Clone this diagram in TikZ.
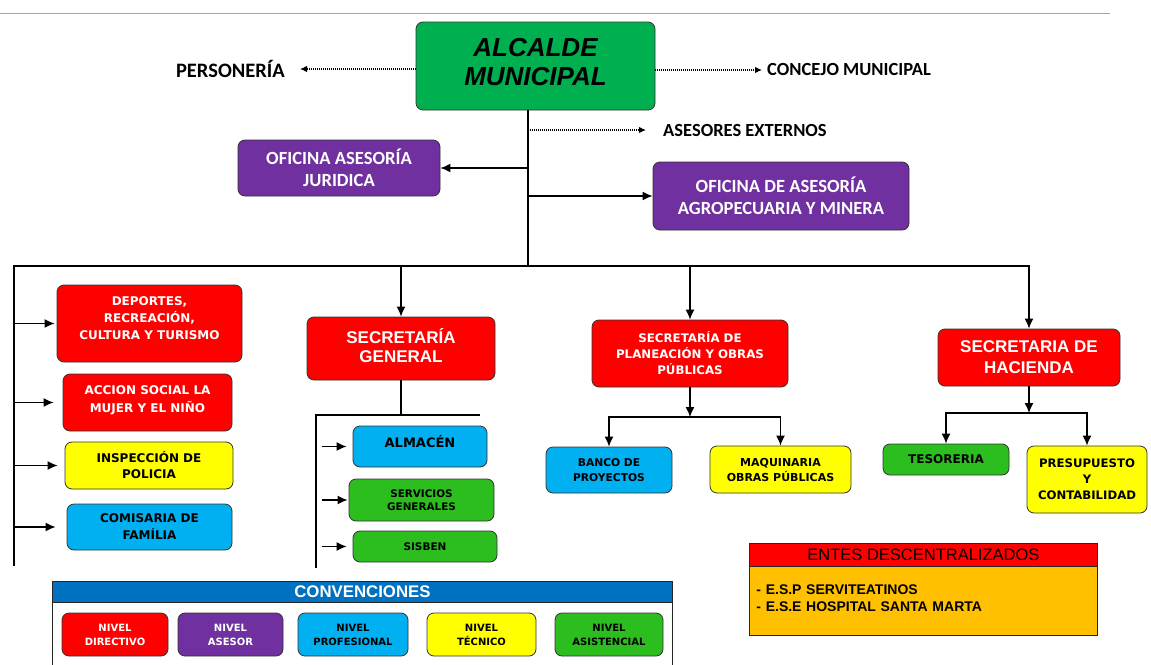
\documentclass[tikz,border=0pt]{standalone}
\usepackage{fontspec}
\setmainfont{Liberation Sans}
\newfontfamily\calib{Carlito}
\newfontfamily\dvs{DejaVu Sans}
\usetikzlibrary{arrows.meta}

\definecolor{alcgreen}{HTML}{00B050}
\definecolor{asepurple}{HTML}{7030A0}
\definecolor{dirred}{HTML}{FF0000}
\definecolor{profblue}{HTML}{00B0F0}
\definecolor{tecyellow}{HTML}{FFFF00}
\definecolor{asisgreen}{RGB}{44,190,30}
\definecolor{convblue}{HTML}{0070C0}
\definecolor{entorange}{HTML}{FFC000}

\newcommand\fs[2]{\fontsize{#1}{#2}\selectfont}

\begin{document}
\begin{tikzpicture}[x=1pt,y=-1pt,
  box/.style={draw=black!80, line width=0.8pt, rounded corners=7pt, align=center, inner sep=2pt},
  sz/.style 2 args={minimum width=#1, minimum height=#2},
  wire/.style={line width=1.3pt, draw=black},
  arr/.style={wire, -{Latex[length=10pt,width=9pt]}},
  dotarr/.style={line width=1.1pt, dash pattern=on 1pt off 1pt, -{Latex[length=7pt,width=6.5pt]}},
  lbl/.style={font=\calib\bfseries\fs{18.5}{22}, inner sep=0pt},
  dirbox/.style={box, fill=dirred, text=white},
  asebox/.style={box, fill=asepurple, text=white, font=\calib\bfseries\fs{18.6}{22}},
  profbox/.style={box, fill=profblue, text=black},
  tecbox/.style={box, fill=tecyellow, text=black},
  asisbox/.style={box, fill=asisgreen, text=black},
  heavy/.style 2 args={font=\dvs\bfseries\fs{#1}{#2}},
]
\clip (0,0) rectangle (1151,664);
\fill[white] (0,0) rectangle (1151,664);

% page rule
\draw[gray!70, line width=1pt] (0,13) -- (1110,13);

% ---- top level ----
\node[box, fill=alcgreen, sz={239pt}{88pt}, text depth=9pt, font=\bfseries\itshape\fs{26}{29}] (alc) at (535.5,66) {ALCALDE\\MUNICIPAL};

\node[lbl, anchor=east, font=\calib\bfseries\fs{20.5}{22}] (pers) at (285,69) {PERSONERÍA};
\node[lbl, anchor=west] (conc) at (767,70) {CONCEJO MUNICIPAL};
\node[lbl, anchor=west] (asex) at (663,130) {ASESORES EXTERNOS};

\coordinate (bus) at (528,266);
\coordinate (busL) at (14,266);
\coordinate (leftEnd) at (14,566);

\draw[dotarr, shorten >=15pt] (pers.east -| alc.west) -- (pers.east);
\draw[dotarr, shorten >=5pt] (conc.west -| alc.east) -- (conc.west);
\draw[dotarr, shorten >=17pt] (asex.west -| bus) -- (asex.west);

% advisory offices
\node[asebox, sz={202pt}{56pt}] (jur) at (339,168) {OFICINA ASESORÍA\\JURIDICA};
\node[asebox, sz={256pt}{68pt}] (agro) at (781,196) {OFICINA DE ASESORÍA\\AGROPECUARIA Y MINERA};

\draw[wire] (alc.south -| bus) -- (bus);
\draw[arr] (jur.east -| bus) -- (jur.east);
\draw[arr] (agro.west -| bus) -- (agro.west);

% ---- directive level ----
\node[dirbox, sz={188pt}{63pt}, text depth=7pt, font=\bfseries\fs{17}{19}] (sg) at (401,348.5) {SECRETARÍA\\GENERAL};
\node[dirbox, sz={196pt}{67pt}, heavy={11.8}{16}] (plan) at (690,353.5) {SECRETARÍA DE\\PLANEACIÓN Y OBRAS\\PÚBLICAS};
\node[dirbox, sz={182pt}{57pt}, font=\bfseries\fs{17}{21}] (hac) at (1029,357.5) {SECRETARIA DE\\HACIENDA};

\draw[wire] (leftEnd) -- (busL) -- (bus);
\draw[arr] (busL) -- (hac.north |- busL) -- (hac.north);
\draw[arr] (sg.north |- busL) -- (sg.north);
\draw[arr] (plan.north |- busL) -- (plan.north);

% left column
\node[dirbox, sz={185pt}{77pt}, text depth=10pt, heavy={12}{17}] (dep) at (149.5,323.5) {DEPORTES,\\RECREACIÓN,\\CULTURA Y TURISMO};
\node[dirbox, sz={169pt}{57pt}, text depth=7pt, heavy={12}{18}] (acc) at (147.5,402.5) {ACCION SOCIAL LA\\MUJER Y EL NIÑO};
\node[tecbox, sz={168pt}{47pt}, heavy={12}{16}] (insp) at (149,465.5) {INSPECCIÓN DE\\POLICIA};
\node[profbox, sz={165pt}{46pt}, heavy={12}{17}] (com) at (149.5,527) {COMISARIA DE\\FAMÍLIA};

\draw[arr, shorten >=2pt] (dep.west -| busL) -- (dep.west);
\draw[arr, shorten >=9pt] (acc.west -| busL) -- (acc.west);
\draw[arr, shorten >=7pt] (insp.west -| busL) -- (insp.west);
\draw[arr, shorten >=11pt] (com.west -| busL) -- (com.west);

% secretaría general units
\node[profbox, sz={134pt}{41pt}, text depth=10pt, heavy={13}{14}] (alm) at (420,446.5) {ALMACÉN};
\node[asisbox, sz={145pt}{42pt}, heavy={10.4}{13}] (serv) at (421.5,500) {SERVICIOS\\GENERALES};
\node[asisbox, sz={144pt}{31pt}, heavy={10.5}{12}] (sis) at (425,546.5) {SISBEN};

\coordinate (sgbus) at (316,415);
\coordinate (sgR) at (480,415);
\coordinate (sgEnd) at (316,568);
\draw[wire] (sg.south) -- (sg.south |- sgbus);
\draw[wire] (sgEnd) -- (sgbus) -- (sgR);
\draw[arr, shorten <=6pt, shorten >=6pt] (alm.west -| sgbus) -- (alm.west);
\draw[arr, shorten <=6pt, shorten >=1pt] (serv.west -| sgbus) -- (serv.west);
\draw[arr, shorten <=6pt, shorten >=6pt] (sis.west -| sgbus) -- (sis.west);

% planeación units
\node[profbox, sz={126pt}{46pt}, heavy={10.7}{15}] (banco) at (609,470) {BANCO DE\\PROYECTOS};
\node[tecbox, sz={141pt}{47pt}, heavy={11}{15}] (maq) at (780.5,469.5) {MAQUINARIA\\OBRAS PÚBLICAS};

\coordinate (planbus) at (690,417);
\draw[arr] (plan.south) -- (planbus);
\draw[arr] (planbus) -| (banco.north);
\draw[arr] (planbus) -| (maq.north);

% hacienda units
\node[asisbox, sz={126pt}{31pt}, heavy={12}{13}] (tes) at (946,459.5) {TESORERIA};
\node[tecbox, sz={120pt}{67pt}, heavy={11.7}{16}] (pres) at (1087,479.5) {PRESUPUESTO\\Y\\CONTABILIDAD};

\coordinate (hacbus) at (1029,413);
\draw[arr] (hac.south) -- (hacbus);
\draw[arr] (hacbus) -| (tes.north);
\draw[arr] (hacbus) -| (pres.north);

% ---- legend ----
\node[draw=black!85, line width=0.9pt, fill=convblue, text=white, font=\bfseries\fs{16.8}{19},
      minimum width=620pt, minimum height=21pt, inner sep=0pt, anchor=north west] (convh) at (52,581) {CONVENCIONES};
\draw[black!85, line width=0.9pt] (convh.south west) -- ++(0,80) (convh.south east) -- ++(0,80);

\node[dirbox, sz={106pt}{43pt}, heavy={10}{14}] (ndir) at (115,634.5) {NIVEL\\DIRECTIVO};
\node[box, fill=asepurple, text=white, sz={105pt}{43pt}, heavy={10}{14}] (nase) at (230.5,634.5) {NIVEL\\ASESOR};
\node[profbox, sz={110pt}{43pt}, heavy={10}{14}] (nprof) at (353,634.5) {NIVEL\\PROFESIONAL};
\node[tecbox, sz={109pt}{43pt}, heavy={10}{14}] (ntec) at (481.5,634.5) {NIVEL\\TÉCNICO};
\node[asisbox, sz={108pt}{43pt}, heavy={10}{14}] (nasis) at (609,634.5) {NIVEL\\ASISTENCIAL};

% ---- decentralised entities ----
\node[draw=black!85, line width=0.9pt, fill=dirred, text=black, font=\fs{16.5}{19},
      minimum width=348pt, minimum height=23pt, inner sep=0pt, anchor=north west] (enth) at (749,543) {ENTES DESCENTRALIZADOS};
\node[draw=black!85, line width=0.9pt, fill=entorange, text=black, font=\bfseries\fs{14}{17},
      minimum width=348pt, minimum height=69pt, text width=334pt, text depth=23pt, align=left, inner sep=0pt,
      anchor=north west] (entb) at (749,566) {- E.S.P SERVITEATINOS\\- E.S.E HOSPITAL SANTA MARTA};
\end{tikzpicture}
\end{document}
